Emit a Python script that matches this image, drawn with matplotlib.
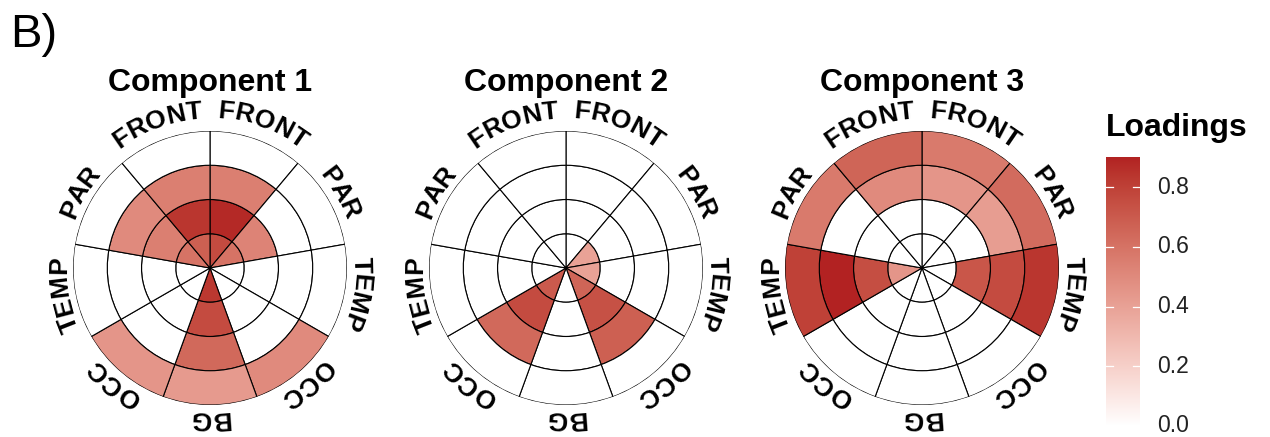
import numpy as np
import matplotlib
matplotlib.use("Agg")
import matplotlib.pyplot as plt
from matplotlib.colors import ListedColormap, Normalize
from matplotlib.font_manager import FontProperties

plt.rcParams["font.family"] = ["Liberation Sans", "DejaVu Sans"]

W, H, DPI = 1270, 437, 100

# sectors run clockwise from 12 o'clock, 40 degrees each
regions = ["FRONT", "PAR", "TEMP", "OCC", "BG", "OCC", "TEMP", "PAR", "FRONT"]
titles = ["Component 1", "Component 2", "Component 3"]

# one row per sector, columns are rings 1 (centre) .. 4 (outer)
comp1_loadings = [
    [0.76, 0.88, 0.55, 0.00],
    [0.60, 0.53, 0.00, 0.00],
    [0.00, 0.00, 0.00, 0.00],
    [0.00, 0.00, 0.00, 0.50],
    [0.83, 0.76, 0.64, 0.43],
    [0.00, 0.00, 0.00, 0.45],
    [0.00, 0.00, 0.00, 0.00],
    [0.60, 0.55, 0.50, 0.00],
    [0.68, 0.84, 0.55, 0.00],
]
comp2_loadings = [
    [0.00, 0.00, 0.00, 0.00],
    [0.40, 0.00, 0.00, 0.00],
    [0.40, 0.00, 0.00, 0.00],
    [0.66, 0.74, 0.68, 0.00],
    [0.00, 0.00, 0.00, 0.00],
    [0.70, 0.76, 0.64, 0.00],
    [0.00, 0.00, 0.00, 0.00],
    [0.00, 0.00, 0.00, 0.00],
    [0.00, 0.00, 0.00, 0.00],
]
comp3_loadings = [
    [0.00, 0.00, 0.45, 0.57],
    [0.00, 0.00, 0.42, 0.63],
    [0.00, 0.72, 0.76, 0.84],
    [0.00, 0.00, 0.00, 0.00],
    [0.00, 0.00, 0.00, 0.00],
    [0.00, 0.00, 0.00, 0.00],
    [0.45, 0.75, 0.90, 0.80],
    [0.00, 0.00, 0.00, 0.57],
    [0.00, 0.00, 0.50, 0.66],
]
cbar_ticks = [0.0, 0.2, 0.4, 0.6, 0.8]

all_loadings = [comp1_loadings, comp2_loadings, comp3_loadings]


def srgb_to_lab(rgb):
    c = np.asarray(rgb, dtype=float)
    lin = np.where(c <= 0.04045, c / 12.92, ((c + 0.055) / 1.055) ** 2.4)
    m = np.array([[0.4124, 0.3576, 0.1805],
                  [0.2126, 0.7152, 0.0722],
                  [0.0193, 0.1192, 0.9505]])
    xyz = m @ lin / np.array([0.95047, 1.0, 1.08883])
    f = np.where(xyz > 0.008856, np.cbrt(xyz), 7.787 * xyz + 16 / 116)
    return np.array([116 * f[1] - 16, 500 * (f[0] - f[1]), 200 * (f[1] - f[2])])


def lab_to_srgb(lab):
    L, a, b = lab
    fy = (L + 16) / 116
    f = np.array([fy + a / 500, fy, fy - b / 200])
    xyz = np.where(f ** 3 > 0.008856, f ** 3, (f - 16 / 116) / 7.787)
    xyz = xyz * np.array([0.95047, 1.0, 1.08883])
    m_inv = np.array([[3.2406, -1.5372, -0.4986],
                      [-0.9689, 1.8758, 0.0415],
                      [0.0557, -0.2040, 1.0570]])
    lin = m_inv @ xyz
    c = np.where(lin <= 0.0031308, 12.92 * lin, 1.055 * np.clip(lin, 0, None) ** (1 / 2.4) - 0.055)
    return np.clip(c, 0, 1)


# white -> firebrick, interpolated in Lab like ggplot's gradient scale
lab_lo = srgb_to_lab([1.0, 1.0, 1.0])
lab_hi = srgb_to_lab([178 / 255, 34 / 255, 34 / 255])
cmap = ListedColormap([lab_to_srgb(lab_lo + t * (lab_hi - lab_lo)) for t in np.linspace(0, 1, 256)])
vmax = max(max(max(row) for row in comp) for comp in all_loadings)
norm = Normalize(0, vmax)

fig = plt.figure(figsize=(W / DPI, H / DPI), dpi=DPI)
renderer = fig.canvas.get_renderer()

label_prop = FontProperties(family="Liberation Sans", weight="bold", size=19)
centers_x = [210, 566, 922]
center_y = H - 268   # pixels from the bottom
outer_r = 137


def curved_label(cx, cy, angle_deg, text, radius):
    """Letters along an arc, reading clockwise, tops pointing outward."""
    full = renderer.get_text_width_height_descent(text, label_prop, ismath=False)[0]
    for i, ch in enumerate(text):
        w0 = renderer.get_text_width_height_descent(text[:i], label_prop, ismath=False)[0] if i else 0.0
        w1 = renderer.get_text_width_height_descent(text[:i + 1], label_prop, ismath=False)[0]
        offset = (w0 + w1) / 2 - full / 2
        phi = np.radians(angle_deg) + offset / radius
        x = cx + radius * np.sin(phi)
        y = cy + radius * np.cos(phi)
        fig.text(x / W, y / H, ch, fontproperties=label_prop, rotation=-np.degrees(phi),
                 rotation_mode="anchor", ha="center", va="baseline")


n_sec = len(regions)
dtheta = 2 * np.pi / n_sec
for k, (loadings, title) in enumerate(zip(all_loadings, titles)):
    cx = centers_x[k]
    ax = fig.add_axes([(cx - outer_r) / W, (center_y - outer_r) / H,
                       2 * outer_r / W, 2 * outer_r / H], projection="polar")
    ax.set_theta_zero_location("N")
    ax.set_theta_direction(-1)
    for i, row in enumerate(loadings):
        for j, v in enumerate(row):
            ax.bar(i * dtheta, 1, width=dtheta, bottom=j, align="edge",
                   color=cmap(norm(v)), edgecolor="black", linewidth=0.8)
    ax.set_ylim(0, 4)
    ax.set_axis_off()

    fig.text(cx / W, (H - 91) / H, title, ha="center", va="baseline",
             fontsize=23, fontweight="bold")
    for i, name in enumerate(regions):
        # the two top labels sit a little further out
        r_lab = 150 if name == "FRONT" else 144
        curved_label(cx, center_y, (i + 0.5) * 360 / n_sec, name, r_lab)

# colour bar
bar_left, bar_w, bar_bottom = 1106, 34, H - 426
bar_h = 298.5 * vmax
cax = fig.add_axes([bar_left / W, bar_bottom / H, bar_w / W, bar_h / H])
grad = np.linspace(0, vmax, 256).reshape(-1, 1)
cax.imshow(grad, aspect="auto", cmap=cmap, norm=norm, origin="lower",
           extent=[0, 1, 0, vmax])
for t in cbar_ticks:
    cax.plot([0, 0.2], [t, t], color="white", lw=0.9)
    cax.plot([0.8, 1], [t, t], color="white", lw=0.9)
    cax.text(1.5, t, f"{t:.1f}", transform=cax.get_yaxis_transform(),
             ha="left", va="center", fontsize=16.5, color="#222222")
cax.set_xlim(0, 1)
cax.set_ylim(0, vmax)
cax.set_axis_off()

fig.text(bar_left / W, (H - 136) / H, "Loadings", ha="left", va="baseline",
         fontsize=23, fontweight="bold")
fig.text(10 / W, (H - 47) / H, "B)", ha="left", va="baseline", fontsize=34)

fig.savefig("out.png", dpi=DPI)
